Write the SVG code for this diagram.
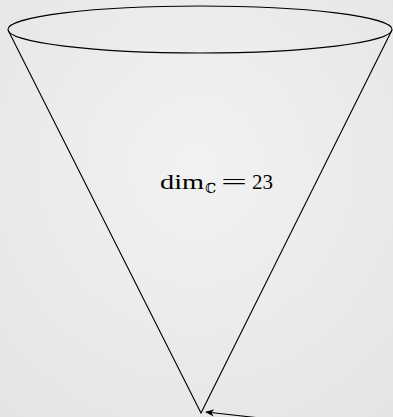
<svg xmlns="http://www.w3.org/2000/svg" width="393" height="417" viewBox="0 0 393 417">
<defs>
<style>
.ln{fill:none;stroke:#000;stroke-width:1.1}
.lbl{font-family:"Liberation Serif","DejaVu Serif",serif;font-size:21px;fill:#000}
.sub{font-family:"DejaVu Serif","DejaVu Sans",serif;font-size:14px;fill:#000}
</style>
<marker id="ah" viewBox="0 0 10 10" refX="9" refY="5" markerWidth="9" markerHeight="9" markerUnits="userSpaceOnUse" orient="auto">
<path d="M0,1 L10,5 L0,9 L3,5 Z" fill="#000"/>
</marker>
<radialGradient id="bg" cx="0.5" cy="0.4" r="0.8">
<stop offset="0" stop-color="#f2f2f2"/>
<stop offset="1" stop-color="#e4e4e4"/>
</radialGradient>
</defs>
<rect width="393" height="417" fill="url(#bg)"/>
<g id="cone">
<ellipse class="ln" cx="200" cy="29.5" rx="192" ry="23.5"/>
<path class="ln" d="M8,30 L201,413 L392,30"/>
</g>
<g id="label">
<text class="lbl" x="160" y="189" font-size="22" textLength="44" lengthAdjust="spacingAndGlyphs">dim</text>
<text class="sub" x="205" y="193" textLength="11" lengthAdjust="spacingAndGlyphs">ℂ</text>
<text class="lbl" x="221" y="189" textLength="26" lengthAdjust="spacingAndGlyphs">=</text>
<text class="lbl" x="252" y="189">23</text>
</g>
<g id="connectors">
<path class="ln" d="M260,418 L206,412" marker-end="url(#ah)"/>
</g>
</svg>
